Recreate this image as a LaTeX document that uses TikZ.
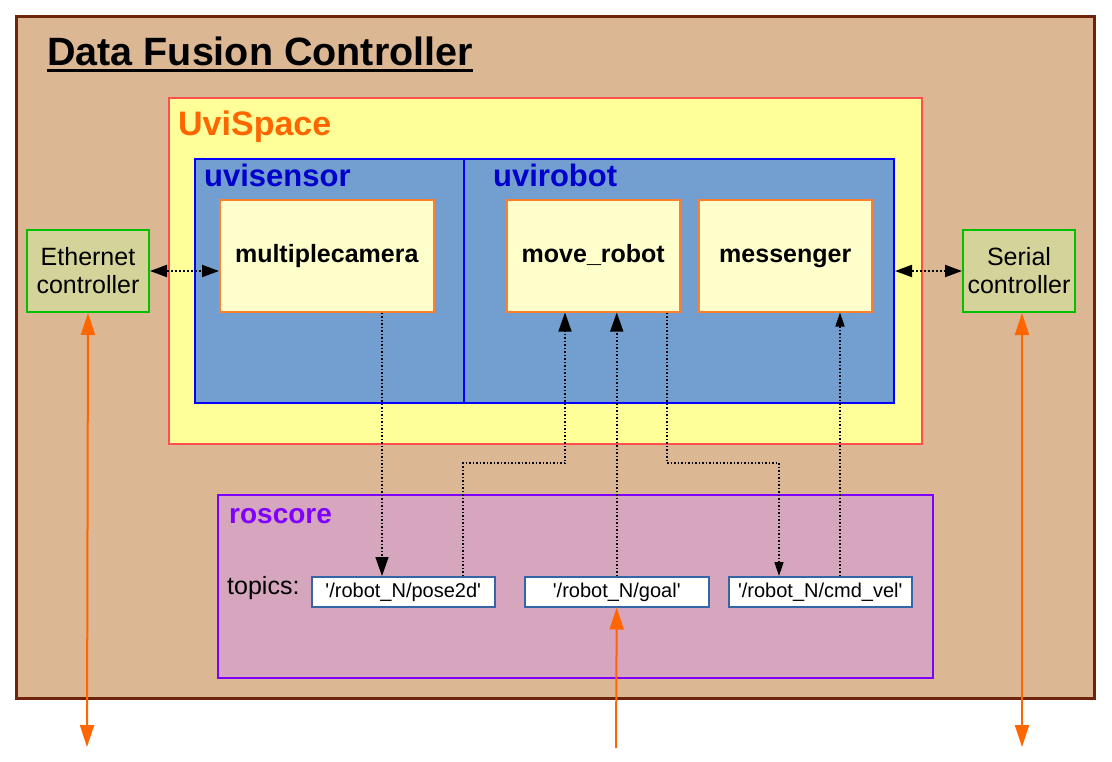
\documentclass[tikz,border=0pt]{standalone}
\usepackage{fontspec}
\setmainfont{Liberation Sans}
\usetikzlibrary{arrows.meta}

\definecolor{dfcfill}{HTML}{DBB794}
\definecolor{dfcline}{HTML}{6E2409}
\definecolor{uvifill}{HTML}{FFFF99}
\definecolor{uviline}{HTML}{FF5050}
\definecolor{uvitext}{HTML}{FF6600}
\definecolor{pkgfill}{HTML}{729FCF}
\definecolor{pkgline}{HTML}{0000FF}
\definecolor{pkgtext}{HTML}{0000CC}
\definecolor{nodefill}{HTML}{FFFFCC}
\definecolor{nodeline}{HTML}{FF7F2A}
\definecolor{ctrlfill}{HTML}{D4D49A}
\definecolor{ctrlline}{HTML}{00C000}
\definecolor{rosfill}{HTML}{D5A6BD}
\definecolor{rosline}{HTML}{7F00FF}
\definecolor{topicline}{HTML}{3465A4}
\definecolor{extline}{HTML}{FF6600}

\begin{document}
\begin{tikzpicture}[x=1pt,y=-1pt]
\tikzstyle{box}=[rectangle,anchor=north west,inner sep=0pt]
\tikzstyle{title}=[anchor=base west,inner sep=0pt,font=\bfseries\fontsize{31}{36}\selectfont]
\tikzstyle{rosnode}=[box,fill=nodefill,draw=nodeline,line width=1.5pt,minimum height=112pt,text height=18pt,text depth=5pt,font=\bfseries\fontsize{25}{30}\selectfont]
\tikzstyle{ctrl}=[box,fill=ctrlfill,draw=ctrlline,line width=2pt,minimum height=82pt,align=center,font=\fontsize{25}{28}\selectfont]
\tikzstyle{topic}=[box,fill=white,draw=topicline,line width=1.5pt,minimum width=183pt,minimum height=30pt,text height=14.5pt,text depth=4pt,font=\fontsize{20}{24}\selectfont]
\tikzstyle{link}=[dotted,line width=2pt,{Triangle[length=17pt,width=12pt]}-{Triangle[length=17pt,width=12pt]}]
\tikzstyle{pub}=[dotted,line width=1.5pt,-{Triangle[length=19pt,width=13pt]}]
\tikzstyle{pubsmall}=[dotted,line width=1.5pt,-{Triangle[length=14pt,width=9pt]}]
\tikzstyle{ext}=[extline,line width=2pt]

\useasboundingbox (0,0) rectangle (1112,761);

%outer boxes
\node[box,fill=dfcfill,draw=dfcline,line width=3pt,minimum width=1078pt,minimum height=682pt] (dfc) at (15,15) {};
\node[box,fill=uvifill,draw=uviline,line width=1.5pt,minimum width=753pt,minimum height=346pt] (uvispace) at (168,97) {};
\node[box,fill=pkgfill,draw=pkgline,line width=2pt,minimum width=269pt,minimum height=244pt] (uvisensor) at (194,158) {};
\node[box,fill=pkgfill,draw=pkgline,line width=2pt,minimum width=430pt,minimum height=244pt] (uvirobot) at (463,158) {};
\node[box,fill=rosfill,draw=rosline,line width=2pt,minimum width=715pt,minimum height=183pt] (roscore) at (217,494) {};

%titles
\node[title,font=\bfseries\fontsize{39.5}{46}\selectfont] (dfctitle) at (47,65) {Data Fusion Controller};
\draw[line width=3pt] ([yshift=-5pt]dfctitle.base west) -- ([yshift=-5pt]dfctitle.base east);
\node[title,text=uvitext,font=\bfseries\fontsize{34}{40}\selectfont] (uvititle) at (178,135) {UviSpace};
\node[title,text=pkgtext] (sensortitle) at (204,186) {uvisensor};
\node[title,text=pkgtext] (robottitle) at (493,186) {uvirobot};
\node[title,text=rosline,font=\bfseries\fontsize{28}{32}\selectfont] (rostitle) at (229,523) {roscore};
\node[anchor=base west,inner sep=0pt,font=\fontsize{25}{30}\selectfont] (topics) at (227,594) {topics:};

%ros nodes
\node[rosnode,minimum width=214pt] (camera) at (219,199) {multiplecamera};
\node[rosnode,minimum width=173pt] (move) at (506,199) {move\_robot};
\node[rosnode,minimum width=173pt] (messenger) at (698,199) {messenger};

%controllers
\node[ctrl,minimum width=122pt] (eth) at (26,229) {Ethernet\\controller};
\node[ctrl,minimum width=112pt] (serial) at (962,229) {Serial\\controller};

%topics
\node[topic] (pose) at (311,576) {\textquotesingle/robot\_N/pose2d\textquotesingle};
\node[topic,minimum width=184pt] (goal) at (524,576) {\textquotesingle/robot\_N/goal\textquotesingle};
\node[topic] (cmd) at (728,576) {\textquotesingle/robot\_N/cmd\_vel\textquotesingle};

%columns and bends
\coordinate (c0) at (382,463);
\coordinate (c1) at (463,463);
\coordinate (c2) at (565,463);
\coordinate (c3) at (667,463);
\coordinate (c4) at (779,463);
\coordinate (c5) at (840,463);
\coordinate (ethout) at (87,747);
\coordinate (serout) at (1022,747);
\coordinate (goalin) at (616,748);

%dotted links
\draw[link] (eth.east) -- (camera.west |- eth.east);
\draw[link] (uvirobot.east |- serial.west) -- (serial.west);
\draw[pub] (camera.south -| c0) -- (pose.north -| c0);
\draw[pub] (pose.north -| c1) -- (c1) -- (c2) -- (move.south -| c2);
\draw[pub] (goal.north) -- (move.south -| goal.north);
\draw[pubsmall] (move.south -| c3) -- (c3) -- (c4) -- (cmd.north -| c4);
\draw[pubsmall] (cmd.north -| c5) -- (messenger.south -| c5);

%orange arrows
\draw[ext,{Triangle[length=22pt,width=14pt]}-{Triangle[length=22pt,width=14pt]}] (eth.south) -- (ethout);
\draw[ext,{Triangle[length=22pt,width=14pt]}-{Triangle[length=22pt,width=14pt]}] (serial.south -| serout) -- (serout);
\draw[ext,-{Triangle[length=22pt,width=14pt]}] (goalin) -- (goal.south);
\end{tikzpicture}
\end{document}
